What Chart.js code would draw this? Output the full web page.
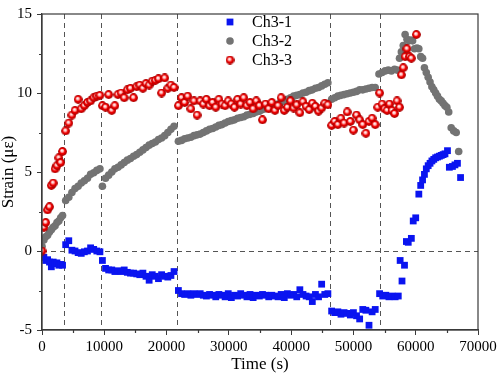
<!DOCTYPE html>
<html>
<head>
<meta charset="utf-8">
<script src="https://cdn.jsdelivr.net/npm/chart.js@4.4.1/dist/chart.umd.min.js"></script>
<style>
  html, body { margin: 0; padding: 0; background: #fff; }
</style>
</head>
<body>
<canvas id="chart" width="500" height="378"></canvas>
<script>
// sample times (s) shared by the three channels up to ~54000 s
var mainTime = [
    0, 300, 600, 900, 1200, 1500, 1800, 2100, 2400, 2700, 3000, 3300,
    3800, 4300, 4800, 5300, 5800, 6300, 6800, 7300, 7800, 8300, 8800, 9300,
    9700, 10200, 10700, 11200, 11700, 12200, 12700, 13200, 13700, 14200, 14700, 15200,
    15700, 16200, 16700, 17200, 17700, 18200, 18700, 19200, 19700, 20200, 20700, 21200,
    21900, 22400, 22900, 23400, 23900, 24400, 24900, 25400, 25900, 26400,
    26900, 27400, 27900, 28400, 28900, 29400, 29900, 30400, 30900, 31400,
    31900, 32400, 32900, 33400, 33900, 34400, 34900, 35400, 35900, 36400,
    36900, 37400, 37900, 38400, 38900, 39400, 39900, 40400, 40900, 41400,
    41900, 42400, 42900, 43400, 43900, 44400, 44900, 45400, 45900,
    46500, 47000, 47500, 48000, 48500, 49000, 49500, 50000, 50500, 51000,
    51500, 52000, 52500, 53000, 53500
];

var ch1Main = [
    -0.4, -0.4, -0.6, -0.55, -0.7, -1.0, -0.7, -0.8, -0.75, -0.9, -0.85, -0.9,
    0.4, 0.65, 0.05, 0.0, -0.1, -0.15, -0.05, 0.0, 0.2, 0.1, 0.0, -0.05,
    -0.6, -1.1, -1.2, -1.2, -1.3, -1.25, -1.3, -1.2, -1.35, -1.4, -1.4, -1.45,
    -1.5, -1.4, -1.6, -1.85, -1.5, -1.6, -1.75, -1.5, -1.6, -1.65, -1.55, -1.3,
    -2.5, -2.7, -2.75, -2.7, -2.8, -2.7, -2.75, -2.7, -2.8, -2.85,
    -2.75, -2.8, -2.9, -2.75, -2.8, -2.9, -2.7, -2.95, -2.8, -2.85,
    -2.7, -2.8, -2.9, -2.75, -2.95, -2.8, -2.85, -2.75, -2.8, -2.9,
    -2.8, -2.85, -2.9, -2.75, -2.95, -2.7, -2.8, -2.75, -2.9, -2.45,
    -2.75, -2.85, -2.9, -3.2, -2.75, -2.9, -2.1, -2.75, -2.7,
    -3.8, -3.9, -3.85, -4.0, -3.9, -3.95, -4.05, -3.9, -4.1, -4.3,
    -3.7, -3.75, -4.7, -3.85, -3.7
];

var ch2Main = [
    0.3, 0.7, 0.9, 1.0, 1.2, 1.35, 1.5, 1.6, 1.8, 1.9, 2.1, 2.25,
    3.2, 3.4, 3.7, 3.95, 4.1, 4.3, 4.45, 4.6, 4.85, 4.95, 5.1, 5.2,
    4.1, 4.6, 4.8, 5.0, 5.2, 5.3, 5.45, 5.6, 5.75, 5.85, 6.0, 6.1,
    6.25, 6.4, 6.55, 6.7, 6.8, 6.9, 7.05, 7.15, 7.3, 7.5, 7.7, 7.9,
    6.95, 7.0, 7.1, 7.15, 7.2, 7.3, 7.35, 7.4, 7.5, 7.6,
    7.7, 7.75, 7.85, 7.95, 8.0, 8.1, 8.2, 8.25, 8.3, 8.4,
    8.45, 8.5, 8.6, 8.65, 8.7, 8.8, 8.85, 8.95, 9.0, 9.1,
    9.15, 9.2, 9.3, 9.4, 9.5, 9.6, 9.7, 9.8, 9.85, 9.9,
    10.0, 10.05, 10.15, 10.2, 10.3, 10.35, 10.45, 10.55, 10.65,
    9.6, 9.7, 9.8, 9.85, 9.9, 9.95, 10.0, 10.05, 10.1, 10.2,
    10.2, 10.25, 10.3, 10.35, 10.35
];

var ch3Main = [
    0.0, 1.5, 1.8, 2.6, 2.8, 4.15, 4.3, 5.2, 5.4, 5.9, 5.6, 6.3,
    7.6, 8.1, 8.6, 8.9, 9.6, 9.0, 9.2, 9.4, 9.5, 9.7, 9.8, 9.85,
    9.2, 9.1, 9.9, 8.9, 9.2, 9.9, 10.0, 9.7, 10.2, 10.3, 9.7, 10.4,
    10.5, 10.3, 10.6, 10.5, 10.75, 10.8, 10.9, 10.0, 10.95, 10.3, 10.5, 10.35,
    9.2, 9.7, 9.4, 9.8, 9.0, 9.5, 8.6, 9.5, 9.3, 9.6,
    9.2, 9.4, 9.1, 9.6, 9.3, 9.2, 9.5, 9.3, 9.1, 9.6,
    9.3, 9.7, 9.2, 9.4, 9.0, 9.5, 9.2, 8.3, 9.3, 9.0,
    9.4, 8.9, 9.2, 9.7, 8.9, 9.1, 9.5, 9.05, 9.25, 8.75,
    9.45, 9.15, 8.95, 9.35, 9.15, 8.85, 9.05, 9.35, 9.25,
    7.95, 8.2, 8.0, 8.4, 8.1, 8.8, 8.2, 7.65, 8.6, 8.3,
    8.0, 7.45, 8.2, 8.4, 8.0
];

// last stage, each channel sampled on its own
var ch1TailTime = [54200, 54700, 55200, 55700, 56200, 56700, 57200, 57500, 57800, 58200,
    58500, 58800, 59300, 59600, 60000, 60500, 60800, 61100, 61400, 61700,
    62000, 62300, 62600, 62900, 63200, 63500, 63800, 64100, 64400, 64700,
    65100, 65400, 65900, 66300, 66700, 67200];
var ch1Tail = [-2.7, -2.85, -2.8, -2.9, -2.85, -2.9, -2.85, -0.6, -1.9, -0.9,
    0.6, 0.55, 0.8, 1.9, 2.1, 3.6, 4.15, 4.5, 4.85, 5.2,
    5.4, 5.55, 5.7, 5.8, 5.9, 5.95, 6.0, 6.05, 6.1, 6.15,
    6.35, 5.3, 5.35, 5.45, 5.55, 4.65];

var ch2TailTime = [54100, 54600, 55100, 55600, 56100, 56600, 57000, 57400, 57700, 58000,
    58300, 58600, 58900, 59200, 59500, 59800, 60200, 60500, 60800, 61100,
    61400, 61700, 62000, 62300, 62600, 62900, 63200, 63500, 63800, 64100,
    64400, 64700, 65000, 65300, 65700, 66100, 66500, 66900];
var ch2Tail = [11.2, 11.3, 11.4, 11.45, 11.4, 11.5, 11.45, 12.2, 12.6, 13.0,
    13.7, 13.4, 13.3, 13.35, 13.3, 12.8, 12.85, 12.8, 12.3, 12.2,
    11.6, 11.3, 11.0, 10.7, 10.4, 10.2, 10.0, 9.8, 9.6, 9.5,
    9.35, 9.2, 9.1, 8.8, 7.8, 7.6, 7.5, 6.3];

var ch3TailTime = [53900, 54200, 54600, 55000, 55400, 55800, 56200, 56600, 57000, 57400,
    57700, 58000, 58300, 58600, 59000, 59300, 60100];
var ch3Tail = [9.1, 10.0, 9.3, 9.0, 8.9, 9.3, 8.9, 8.7, 9.5, 9.1,
    11.15, 11.6, 12.3, 12.8, 12.3, 12.2, 13.7];

// times where the loading stage changes (dashed lines)
var stageTimes = [3600, 9450, 21700, 46300, 54200];

var seriesNames = ['Ch3-1', 'Ch3-2', 'Ch3-3'];

function toPoints(times, values) {
    var pts = [];
    for (var i = 0; i < times.length; i++) {
        pts.push({x: times[i], y: values[i]});
    }
    return pts;
}

// red shaded ball used for Ch3-3
function makeBall() {
    var c = document.createElement('canvas');
    c.width = 9;
    c.height = 9;
    var g = c.getContext('2d');
    var grad = g.createRadialGradient(3.8, 3.4, 0.2, 4.5, 4.5, 4.4);
    grad.addColorStop(0, '#ffffff');
    grad.addColorStop(0.3, '#ffb0b0');
    grad.addColorStop(0.55, '#f50000');
    grad.addColorStop(1, '#a00000');
    g.fillStyle = grad;
    g.beginPath();
    g.arc(4.5, 4.5, 4.4, 0, Math.PI * 2);
    g.fill();
    return c;
}
var ball = makeBall();

var axisColor = '#3a3a3a';

var stagePlugin = {
    id: 'stages',
    beforeDatasetsDraw: function (chart) {
        var ctx = chart.ctx, area = chart.chartArea;
        var x = chart.scales.x, y = chart.scales.y;
        ctx.save();
        ctx.strokeStyle = '#555';
        ctx.lineWidth = 1;
        ctx.setLineDash([5, 4]);
        stageTimes.forEach(function (t) {
            var px = Math.round(x.getPixelForValue(t)) + 0.5;
            ctx.beginPath();
            ctx.moveTo(px, area.top);
            ctx.lineTo(px, area.bottom);
            ctx.stroke();
        });
        var py = Math.round(y.getPixelForValue(0)) + 0.5;
        ctx.beginPath();
        ctx.moveTo(area.left, py);
        ctx.lineTo(area.right, py);
        ctx.stroke();
        ctx.restore();
    },
    afterDraw: function (chart) {
        var ctx = chart.ctx, area = chart.chartArea;
        var x = chart.scales.x, y = chart.scales.y;
        ctx.save();
        // frame
        ctx.strokeStyle = axisColor;
        ctx.lineWidth = 1.2;
        ctx.strokeRect(area.left, area.top, area.right - area.left, area.bottom - area.top);
        // minor ticks
        ctx.beginPath();
        for (var t = 5000; t < 70000; t += 10000) {
            var px = Math.round(x.getPixelForValue(t)) + 0.5;
            ctx.moveTo(px, area.bottom);
            ctx.lineTo(px, area.bottom + 3);
        }
        for (var v = -2.5; v < 15; v += 5) {
            var py = Math.round(y.getPixelForValue(v)) + 0.5;
            ctx.moveTo(area.left, py);
            ctx.lineTo(area.left - 3, py);
        }
        ctx.stroke();
        // legend
        var lx = 230, ly = 22, step = 19;
        ctx.font = '16px "Liberation Serif", "Times New Roman", serif';
        ctx.textBaseline = 'middle';
        ctx.fillStyle = '#000';
        chart.data.datasets.forEach(function (ds, i) {
            var yy = ly + i * step;
            ctx.fillStyle = ds.backgroundColor;
            ctx.strokeStyle = ds.borderColor;
            Chart.helpers.drawPoint(ctx, {
                pointStyle: ds.pointStyle,
                radius: ds.pointRadius,
                rotation: 0,
                borderWidth: 0
            }, lx, yy);
            ctx.fillStyle = '#000';
            ctx.fillText(seriesNames[i], lx + 22, yy + 1);
        });
        ctx.restore();
    }
};

Chart.defaults.font.family = '"Liberation Serif", "Times New Roman", serif';
Chart.defaults.color = '#000';

new Chart(document.getElementById('chart').getContext('2d'), {
    type: 'scatter',
    data: {
        datasets: [
            {
                label: seriesNames[0],
                data: toPoints(mainTime.concat(ch1TailTime), ch1Main.concat(ch1Tail)),
                pointStyle: 'rect',
                pointRadius: 4.8,
                backgroundColor: '#0a14f0',
                borderColor: '#0a14f0',
                borderWidth: 0,
                order: 2
            },
            {
                label: seriesNames[1],
                data: toPoints(mainTime.concat(ch2TailTime), ch2Main.concat(ch2Tail)),
                pointStyle: 'circle',
                pointRadius: 3.8,
                backgroundColor: '#737373',
                borderColor: '#737373',
                borderWidth: 0,
                order: 1
            },
            {
                label: seriesNames[2],
                data: toPoints(mainTime.concat(ch3TailTime), ch3Main.concat(ch3Tail)),
                pointStyle: ball,
                pointRadius: 4.5,
                backgroundColor: '#e00000',
                borderColor: '#e00000',
                borderWidth: 0,
                order: 0
            }
        ]
    },
    options: {
        responsive: false,
        animation: false,
        layout: {
            padding: {left: 0, right: 22, top: 6, bottom: 0}
        },
        plugins: {
            legend: {display: false},
            tooltip: {enabled: false}
        },
        scales: {
            x: {
                type: 'linear',
                min: 0,
                max: 70000,
                afterFit: function (scale) { scale.height = 48; },
                border: {color: axisColor, width: 1.2},
                grid: {drawOnChartArea: false, drawTicks: true, tickLength: 5, color: axisColor},
                ticks: {
                    stepSize: 10000,
                    autoSkip: false,
                    maxRotation: 0,
                    padding: 3,
                    font: {size: 15},
                    callback: function (v) { return String(v); }
                },
                title: {
                    display: true,
                    text: 'Time (s)',
                    font: {size: 17},
                    padding: {top: 0, bottom: 3}
                }
            },
            y: {
                type: 'linear',
                min: -5,
                max: 15,
                afterFit: function (scale) { scale.width = 42; },
                border: {color: axisColor, width: 1.2},
                grid: {drawOnChartArea: false, drawTicks: true, tickLength: 5, color: axisColor},
                ticks: {
                    stepSize: 5,
                    autoSkip: false,
                    padding: 5,
                    font: {size: 15},
                    callback: function (v) { return String(v); }
                },
                title: {
                    display: true,
                    text: 'Strain (με)',
                    font: {size: 17, lineHeight: 1.0},
                    padding: {top: 0, bottom: 0}
                }
            }
        }
    },
    plugins: [stagePlugin]
});
</script>
</body>
</html>
